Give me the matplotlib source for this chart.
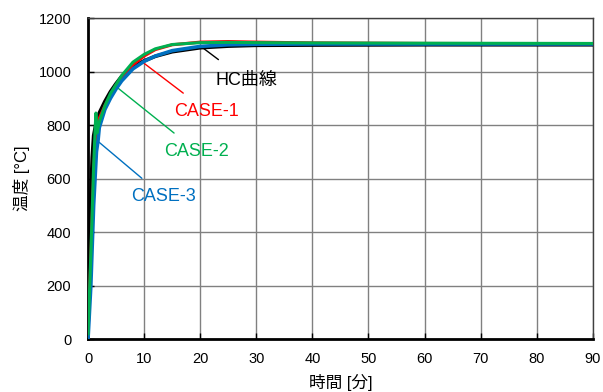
import matplotlib
matplotlib.use("Agg")
import matplotlib.pyplot as plt

plt.rcParams['font.family'] = ['Liberation Sans', 'Noto Sans CJK JP', 'DejaVu Sans']

# time [min] and temperature [C]
t_hc = [0, 0.25, 0.5, 0.75, 1, 1.5, 2, 3, 4, 5, 6, 8, 10, 12, 15, 20, 25, 30, 40, 60, 90]
temp_hc = [20, 330, 540, 680, 760, 815, 845, 888, 925, 955, 982, 1018, 1040, 1057, 1074, 1089, 1095, 1098, 1099, 1100, 1100]

t_case1 = [0, 0.5, 1, 1.3, 1.5, 2, 3, 4, 5, 6, 8, 10, 12, 15, 20, 25, 30, 40, 60, 90]
temp_case1 = [20, 300, 620, 740, 790, 825, 872, 912, 948, 978, 1025, 1058, 1082, 1100, 1110, 1112, 1110, 1107, 1105, 1104]

t_case2 = [0, 0.5, 1, 1.3, 1.4, 1.6, 2, 3, 4, 5, 6, 8, 10, 12, 15, 20, 25, 30, 40, 60, 90]
temp_case2 = [20, 320, 650, 800, 845, 770, 812, 872, 918, 952, 985, 1035, 1064, 1085, 1101, 1108, 1109, 1108, 1107, 1106, 1105]

t_case3 = [0, 0.5, 1, 1.5, 1.8, 2, 3, 4, 5, 6, 8, 10, 12, 15, 20, 25, 30, 40, 60, 90]
temp_case3 = [0, 200, 500, 700, 745, 790, 858, 900, 935, 965, 1010, 1038, 1058, 1078, 1094, 1100, 1102, 1103, 1103, 1103]

fig = plt.figure(figsize=(6.03, 3.92), dpi=100)
ax = fig.add_axes([0.146, 0.135, 0.837, 0.819])

ax.plot(t_hc, temp_hc, color='black', lw=2.6, zorder=3)
ax.plot(t_case1, temp_case1, color='#FF0000', lw=2.2, zorder=4)
ax.plot(t_case3, temp_case3, color='#0070C0', lw=2.6, zorder=4)
ax.plot(t_case2, temp_case2, color='#00B050', lw=2.2, zorder=5)

# labels with leader lines
ax.annotate('HC曲線', xy=(20.5, 1088), xytext=(28.3, 965), color='black', fontsize=13,
            ha='center', va='center',
            arrowprops=dict(arrowstyle='-', color='black', lw=1, shrinkA=12, shrinkB=0))
ax.annotate('CASE-1', xy=(9.6, 1037), xytext=(21.2, 852), color='#FF0000', fontsize=13,
            ha='center', va='center',
            arrowprops=dict(arrowstyle='-', color='#FF0000', lw=1, shrinkA=8, shrinkB=0))
ax.annotate('CASE-2', xy=(5.4, 937), xytext=(19.4, 702), color='#00B050', fontsize=13,
            ha='center', va='center',
            arrowprops=dict(arrowstyle='-', color='#00B050', lw=1, shrinkA=8, shrinkB=0))
ax.annotate('CASE-3', xy=(1.84, 738), xytext=(13.5, 532), color='#0070C0', fontsize=13,
            ha='center', va='center',
            arrowprops=dict(arrowstyle='-', color='#0070C0', lw=1, shrinkA=8, shrinkB=0))

ax.set_xlim(0, 90)
ax.set_ylim(0, 1200)
ax.set_xticks(range(0, 91, 10))
ax.set_yticks(range(0, 1201, 200))
ax.grid(True, color='#808080', lw=1)
ax.tick_params(direction='in', length=4, width=1, labelsize=10.5)
ax.tick_params(axis='x', pad=9)
ax.tick_params(axis='y', pad=12)
ax.set_axisbelow(True)

for side in ['left', 'bottom']:
    ax.spines[side].set_linewidth(2)
    ax.spines[side].set_color('black')
for side in ['top', 'right']:
    ax.spines[side].set_linewidth(1)
    ax.spines[side].set_color('#404040')

ax.set_xlabel('時間 [分]', fontsize=12, labelpad=6)
ax.set_ylabel('温度 [°C]', fontsize=12, labelpad=6)

fig.savefig('out.png', dpi=100)
